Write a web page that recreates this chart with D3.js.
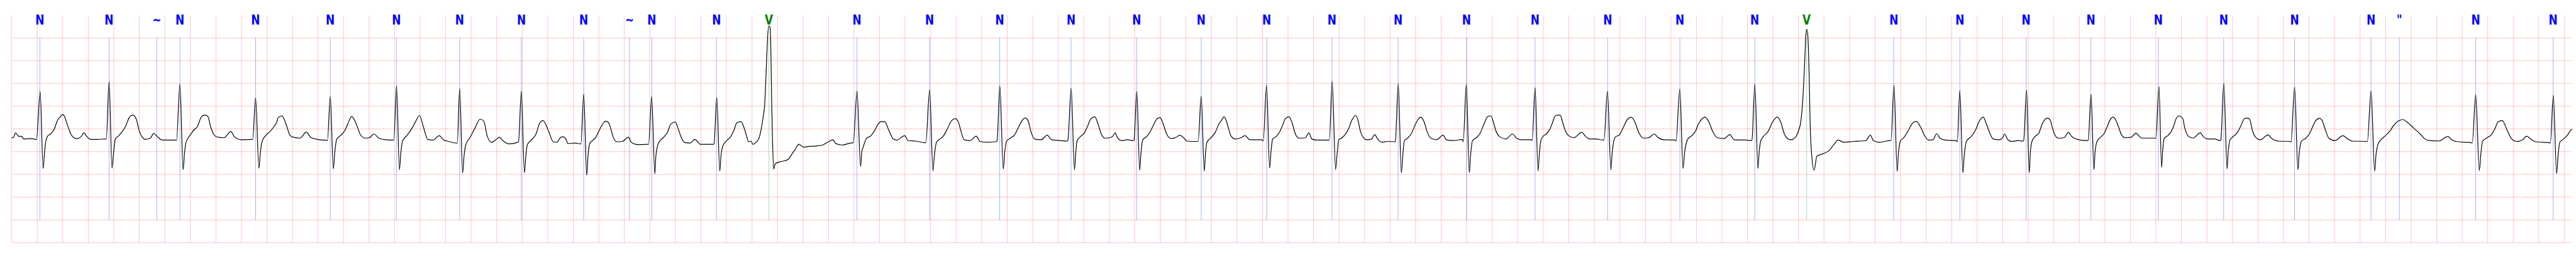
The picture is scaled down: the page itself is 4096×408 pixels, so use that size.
<!DOCTYPE html>
<html>
<head>
<meta charset="utf-8">
<script src="https://cdn.jsdelivr.net/npm/d3@7"></script>
<style>
html,body{margin:0;padding:0;background:#fff;overflow:hidden;}
svg{display:block;}
</style>
</head>
<body>
<svg id="chart"></svg>
<script>
// ---- data ----
// annotation times (s) and symbols
const annTimes = [0.2203,0.7626,1.1364,1.3183,1.9110,2.4957,3.0147,3.5100,3.9933,4.4813,4.8409,5.0153,5.5222,5.9330,6.6231,7.1917,7.7412,8.2999,8.8146,9.3198,9.8326,10.3443,10.8627,11.3988,11.9360,12.5046,13.0705,13.6565,14.0636,14.7464,15.2640,15.7833,16.2904,16.8190,17.3315,17.8869,18.4855,18.7080,19.3061,19.9125];
const annSymbols = ["N","N","~","N","N","N","N","N","N","N","~","N","N","V","N","N","N","N","N","N","N","N","N","N","N","N","N","N","V","N","N","N","N","N","N","N","N","\"","N","N"];
// grid tick values
const timeTicks = d3.range(0, 20.0001, 0.2);
const voltTicks = [2.0,1.5,1.0,0.5,0.0,-0.5,-1.0,-1.5,-2.0,-2.5];
const timeDomain = [0, 20.062];
const voltDomain = [-2.5, 2.5];
// ECG trace [time s, mV]
const trace = [
[0.000,-0.184],[0.011,-0.195],[0.031,-0.087],[0.052,-0.159],[0.079,-0.166],[0.093,-0.221],[0.141,-0.213],[0.189,-0.231],
[0.194,-0.239],[0.223,0.821],[0.246,-0.871],[0.257,-0.528],[0.267,-0.275],[0.281,-0.159],[0.305,-0.112],[0.333,-0.004],[0.360,0.195],[0.381,0.268],[0.398,0.315],[0.415,0.268],[0.428,0.159],[0.446,0.014],[0.463,-0.112],[0.483,-0.184],[0.511,-0.213],[0.545,-0.166],[0.565,-0.087],[0.586,-0.159],[0.620,-0.231],[0.675,-0.231],[0.736,-0.221],
[0.741,-0.221],[0.763,1.038],[0.786,-0.860],[0.798,-0.528],[0.812,-0.221],[0.839,-0.148],[0.866,-0.058],[0.894,0.069],[0.921,0.249],[0.949,0.304],[0.976,0.213],[1.001,-0.058],[1.024,-0.184],[1.045,-0.231],[1.086,-0.202],[1.113,-0.101],[1.140,-0.166],[1.181,-0.246],[1.284,-0.246],
[1.291,-0.257],[1.318,0.983],[1.343,-0.897],[1.354,-0.528],[1.366,-0.293],[1.400,-0.130],[1.428,-0.022],[1.455,0.051],[1.483,0.249],[1.510,0.304],[1.537,0.275],[1.558,0.051],[1.578,-0.094],[1.606,-0.174],[1.661,-0.195],[1.718,-0.058],[1.743,-0.166],[1.797,-0.239],[1.880,-0.231],
[1.888,-0.231],[1.911,0.683],[1.937,-0.864],[1.948,-0.528],[1.962,-0.275],[1.989,-0.148],[2.023,-0.058],[2.055,0.051],
[2.075,0.141],[2.089,0.249],[2.117,0.286],[2.137,0.195],[2.158,0.033],[2.178,-0.130],[2.206,-0.184],[2.260,-0.202],[2.308,-0.069],[2.342,-0.184],[2.397,-0.231],[2.468,-0.249],
[2.474,-0.249],[2.496,0.709],[2.520,-0.879],[2.531,-0.528],[2.545,-0.239],[2.575,-0.148],[2.609,-0.040],[2.630,0.087],[2.664,0.275],[2.692,0.159],[2.712,0.014],[2.733,-0.130],[2.767,-0.202],[2.801,-0.195],[2.838,-0.112],[2.876,-0.202],[2.931,-0.239],[2.989,-0.246],
[2.994,-0.246],[3.015,0.944],[3.038,-0.897],[3.049,-0.528],[3.061,-0.275],[3.095,-0.148],[3.136,0.014],[3.164,0.159],[3.195,0.296],[3.225,0.051],[3.260,-0.231],[3.301,-0.246],[3.349,-0.148],[3.383,-0.239],[3.424,-0.275],[3.485,-0.311],
[3.491,-0.311],[3.510,0.882],[3.533,-0.969],[3.544,-0.600],[3.558,-0.347],[3.588,-0.202],[3.629,0.014],[3.670,0.213],[3.698,0.177],[3.725,-0.148],[3.759,-0.293],[3.794,-0.239],[3.821,-0.184],[3.848,-0.257],[3.896,-0.329],[3.966,-0.293],
[3.971,-0.286],[3.993,0.828],[4.017,-0.962],[4.028,-0.600],[4.040,-0.347],[4.067,-0.257],[4.108,-0.112],[4.136,0.123],[4.163,0.184],[4.201,-0.010],
[4.215,-0.112],[4.242,-0.282],[4.273,-0.293],[4.295,-0.202],[4.318,-0.174],[4.345,-0.239],[4.358,-0.322],[4.416,-0.311],[4.456,-0.329],
[4.460,-0.329],[4.482,0.766],[4.505,-1.016],[4.515,-0.600],[4.530,-0.311],[4.550,-0.257],[4.577,-0.184],[4.599,-0.058],[4.626,0.087],[4.653,0.170],[4.676,0.141],[4.693,0.014],[4.711,-0.166],[4.738,-0.282],[4.783,-0.275],[4.832,-0.184],[4.854,-0.293],[4.908,-0.347],[4.987,-0.340],
[4.990,-0.340],[5.014,0.709],[5.039,-0.987],[5.047,-0.600],[5.065,-0.329],[5.087,-0.239],[5.114,-0.166],[5.141,-0.058],[5.163,0.105],[5.199,0.152],[5.221,0.014],[5.243,-0.166],[5.275,-0.300],
[5.316,-0.311],[5.352,-0.231],[5.398,-0.340],[5.495,-0.340],
[5.503,-0.329],[5.524,0.694],[5.548,-0.926],[5.557,-0.600],[5.573,-0.365],[5.603,-0.257],[5.634,-0.166],[5.660,-0.022],[5.680,0.130],[5.714,0.159],[5.737,0.033],[5.757,-0.148],[5.773,-0.282],[5.793,-0.268],[5.807,-0.340],[5.829,-0.304],[5.855,-0.202],[5.870,-0.040],[5.886,0.231],[5.901,0.593],
[5.913,1.388],[5.924,2.075],[5.932,2.263],[5.942,2.220],[5.948,1.750],[5.954,0.665],[5.961,-0.239],[5.970,-0.882],[5.983,-0.763],[6.014,-0.727],[6.055,-0.701],[6.086,-0.665],[6.106,-0.582],[6.137,-0.456],[6.168,-0.340],[6.204,-0.401],[6.250,-0.383],[6.302,-0.376],[6.353,-0.354],[6.404,-0.275],[6.435,-0.239],[6.455,-0.318],[6.507,-0.354],[6.589,-0.304],
[6.594,-0.311],[6.623,0.835],[6.651,-0.828],[6.661,-0.492],[6.671,-0.401],[6.697,-0.210],[6.733,-0.148],[6.764,-0.022],[6.784,0.087],[6.815,0.159],[6.841,0.159],[6.866,0.014],[6.885,-0.112],
[6.907,-0.221],[6.935,-0.246],[6.996,-0.148],[7.024,-0.257],[7.085,-0.268],[7.157,-0.304],
[7.162,-0.304],[7.192,0.857],[7.218,-0.918],[7.230,-0.564],[7.246,-0.293],[7.274,-0.221],[7.302,-0.148],[7.330,-0.004],[7.363,0.177],[7.391,0.224],[7.416,0.159],[7.435,-0.022],[7.463,-0.239],[7.508,-0.257],[7.558,-0.159],[7.586,-0.275],[7.641,-0.293],[7.713,-0.282],
[7.721,-0.257],[7.742,0.947],[7.769,-0.882],[7.780,-0.528],[7.795,-0.268],[7.825,-0.202],[7.858,-0.130],[7.891,0.051],[7.919,0.195],[7.941,0.242],[7.966,0.159],[7.986,-0.058],[8.014,-0.221],[8.064,-0.239],[8.114,-0.137],[8.147,-0.239],[8.220,-0.257],[8.270,-0.268],
[8.275,-0.257],[8.301,0.889],[8.327,-0.897],[8.336,-0.564],[8.347,-0.268],[8.375,-0.166],[8.403,-0.094],[8.431,0.069],[8.453,0.213],[8.486,0.268],[8.514,0.087],[8.537,-0.112],[8.564,-0.202],[8.603,-0.195],[8.629,-0.155],
[8.646,-0.087],[8.662,-0.184],[8.696,-0.257],[8.740,-0.239],[8.790,-0.257],
[8.794,-0.239],[8.815,0.828],[8.838,-0.907],[8.847,-0.564],[8.862,-0.239],[8.896,-0.159],[8.924,-0.040],[8.951,0.116],[8.974,0.224],[8.998,0.249],[9.018,0.141],[9.052,-0.130],[9.085,-0.210],[9.124,-0.184],[9.152,-0.137],[9.185,-0.202],[9.207,-0.268],[9.285,-0.275],
[9.296,-0.275],[9.320,0.719],[9.344,-0.926],[9.352,-0.600],[9.365,-0.293],[9.396,-0.195],[9.430,-0.076],[9.458,0.105],[9.480,0.195],[9.499,0.268],[9.519,0.159],[9.552,-0.148],[9.586,-0.221],[9.630,-0.195],[9.663,-0.148],[9.702,-0.239],[9.797,-0.239],
[9.806,-0.268],[9.832,0.962],[9.856,-0.860],[9.866,-0.528],[9.880,-0.221],[9.908,-0.166],[9.936,-0.058],[9.958,0.087],[9.980,0.224],[10.008,0.268],[10.033,0.123],[10.058,-0.112],[10.086,-0.202],[10.136,-0.195],[10.164,-0.087],[10.186,-0.221],[10.231,-0.246],[10.320,-0.246],
[10.324,-0.246],[10.346,1.045],[10.373,-0.889],[10.383,-0.600],[10.399,-0.231],[10.424,-0.195],[10.455,-0.094],[10.476,0.014],[10.501,0.195],[10.529,0.296],[10.548,0.195],[10.568,-0.058],[10.589,-0.184],[10.619,-0.239],[10.655,-0.221],[10.679,-0.123],[10.702,-0.221],[10.737,-0.293],[10.784,-0.275],[10.837,-0.282],
[10.841,-0.275],[10.864,0.991],[10.888,-0.962],[10.899,-0.600],[10.912,-0.257],[10.938,-0.202],[10.968,-0.094],[10.999,0.105],[11.020,0.213],[11.040,0.257],[11.066,0.159],[11.092,-0.076],[11.122,-0.210],[11.164,-0.239],[11.215,-0.137],[11.241,-0.239],[11.297,-0.257],[11.367,-0.231],
[11.373,-0.282],[11.397,0.973],[11.421,-0.962],[11.430,-0.600],[11.446,-0.257],[11.471,-0.202],[11.502,-0.112],[11.533,0.087],[11.564,0.268],[11.590,0.286],[11.610,0.141],[11.631,-0.058],[11.656,-0.166],[11.708,-0.221],[11.759,-0.112],[11.790,-0.202],[11.831,-0.239],[11.908,-0.239],
[11.913,-0.257],[11.936,0.907],[11.959,-0.918],[11.970,-0.528],[11.983,-0.239],
[12.004,-0.148],[12.024,-0.112],[12.055,0.014],[12.075,0.159],[12.096,0.293],[12.132,0.304],[12.152,0.141],[12.173,-0.040],[12.199,-0.148],[12.240,-0.195],[12.301,-0.076],[12.332,-0.166],[12.363,-0.221],[12.414,-0.221],[12.471,-0.246],
[12.476,-0.246],[12.503,0.828],[12.530,-0.897],[12.539,-0.564],[12.563,-0.184],[12.599,-0.123],[12.630,0.051],[12.661,0.213],[12.691,0.257],[12.717,0.159],[12.748,-0.076],[12.784,-0.202],[12.825,-0.195],[12.871,-0.112],[12.897,-0.184],[12.948,-0.239],[13.035,-0.246],
[13.040,-0.268],[13.070,0.875],[13.095,-0.871],[13.107,-0.528],[13.133,-0.221],[13.164,-0.148],[13.195,-0.040],[13.215,0.105],[13.241,0.213],[13.266,0.260],[13.297,0.159],[13.328,-0.058],[13.364,-0.195],[13.420,-0.210],[13.461,-0.123],[13.497,-0.239],[13.593,-0.246],[13.629,-0.257],
[13.635,-0.246],[13.658,0.983],[13.682,-0.871],[13.691,-0.528],[13.703,-0.275],[13.725,-0.166],[13.761,-0.058],[13.797,0.152],[13.833,0.260],[13.862,0.141],[13.886,-0.087],[13.910,-0.202],[13.940,-0.239],[13.976,-0.184],[14.000,-0.040],[14.018,0.159],[14.034,0.665],
[14.046,1.316],[14.058,2.075],[14.066,2.191],[14.074,2.003],[14.084,1.099],[14.091,0.123],[14.102,-0.528],[14.122,-0.907],[14.144,-0.600],[14.192,-0.546],[14.240,-0.474],[14.276,-0.347],[14.312,-0.246],[14.354,-0.293],[14.431,-0.275],[14.527,-0.257],[14.563,-0.137],[14.587,-0.257],[14.635,-0.293],[14.719,-0.257],
[14.725,-0.257],[14.748,0.962],[14.773,-0.933],[14.782,-0.564],[14.797,-0.275],[14.827,-0.184],[14.863,-0.022],[14.887,0.105],[14.923,0.166],[14.958,0.033],[14.988,-0.148],[15.018,-0.246],[15.054,-0.239],[15.082,-0.105],[15.108,-0.202],[15.150,-0.246],[15.236,-0.257],
[15.244,-0.282],[15.264,0.846],[15.288,-0.962],[15.298,-0.600],[15.318,-0.257],[15.354,-0.166],[15.390,-0.004],[15.414,0.159],[15.447,0.260],[15.471,0.118],
[15.489,-0.022],[15.507,-0.148],[15.525,-0.221],[15.574,-0.239],[15.601,-0.184],[15.614,-0.112],[15.641,-0.239],[15.672,-0.275],[15.722,-0.257],[15.759,-0.268],
[15.764,-0.257],[15.787,0.853],[15.808,-0.962],[15.816,-0.528],[15.829,-0.275],[15.856,-0.159],[15.883,-0.094],[15.909,0.105],[15.927,0.195],[15.950,0.239],[15.972,0.195],[15.990,0.014],[16.008,-0.130],[16.035,-0.202],[16.079,-0.195],[16.115,-0.076],[16.138,-0.159],[16.187,-0.231],[16.258,-0.257],
[16.270,-0.246],[16.292,0.766],[16.315,-0.897],[16.323,-0.528],[16.339,-0.275],[16.366,-0.184],[16.392,-0.112],[16.419,0.051],[16.437,0.177],[16.464,0.260],[16.486,0.195],[16.509,0.033],[16.531,-0.130],[16.562,-0.195],[16.607,-0.184],[16.643,-0.094],[16.688,-0.202],[16.795,-0.202],
[16.800,-0.210],[16.824,0.936],[16.845,-0.846],[16.853,-0.492],[16.865,-0.210],[16.893,-0.148],[16.920,-0.058],[16.938,0.051],[16.960,0.231],[16.983,0.286],[17.010,0.231],[17.027,0.014],[17.054,-0.159],[17.090,-0.202],[17.148,-0.087],[17.171,-0.166],[17.206,-0.221],[17.260,-0.221],[17.303,-0.257],
[17.309,-0.239],[17.332,1.001],[17.358,-0.879],[17.366,-0.528],[17.381,-0.239],[17.403,-0.174],[17.439,-0.076],[17.466,0.069],[17.493,0.224],[17.519,0.239],[17.537,0.195],[17.555,-0.022],[17.582,-0.184],[17.618,-0.239],[17.680,-0.130],[17.707,-0.210],[17.761,-0.268],[17.855,-0.275],
[17.859,-0.293],[17.887,0.918],[17.913,-0.897],[17.922,-0.564],[17.940,-0.275],[17.976,-0.202],[18.002,-0.112],[18.029,0.051],[18.051,0.177],[18.083,0.231],[18.101,0.195],[18.128,-0.022],[18.154,-0.198],
[18.204,-0.257],[18.266,-0.148],[18.303,-0.221],[18.340,-0.268],[18.451,-0.275],
[18.457,-0.282],[18.486,0.835],[18.514,-0.926],[18.525,-0.564],[18.540,-0.340],[18.562,-0.246],[18.599,-0.148],[18.636,-0.040],[18.661,0.069],[18.698,0.170],[18.733,0.206],[18.772,0.141],[18.822,0.014],[18.871,-0.112],[18.908,-0.221],[18.945,-0.257],[19.019,-0.264],[19.087,-0.166],[19.118,-0.239],[19.168,-0.282],[19.273,-0.304],
[19.279,-0.311],[19.306,0.756],[19.334,-0.915],[19.347,-0.528],[19.359,-0.275],[19.390,-0.202],[19.427,-0.130],[19.452,-0.022],[19.483,0.159],[19.514,0.184],[19.551,-0.022],[19.588,-0.221],[19.625,-0.275],[19.674,-0.239],[19.705,-0.159],[19.736,-0.221],[19.773,-0.282],[19.884,-0.304],
[19.891,-0.311],[19.914,0.738],[19.940,-0.980],[19.952,-0.564],[19.965,-0.293],[19.995,-0.221],[20.026,-0.130],[20.057,-0.011],[20.062,-0.004]
];

// ---- drawing (reference coordinates, scaled by viewBox) ----
const W = 7522, H = 750;
const svg = d3.select("#chart")
  .attr("width", 4096).attr("height", 408)
  .attr("viewBox", `0 0 ${W} ${H}`)
  .attr("preserveAspectRatio", "none");

const x = d3.scaleLinear().domain(timeDomain).range([34.2, 7510.9]);
const y = d3.scaleLinear().domain(voltDomain).range([708.2, 44.2]);

const gridColor = "rgba(255,0,0,0.27)";
const grid = svg.append("g");
grid.selectAll("line.v").data(timeTicks).join("line")
  .attr("class","v")
  .attr("x1", d => x(d)).attr("x2", d => x(d))
  .attr("y1", y(voltDomain[1])).attr("y2", y(voltDomain[0]))
  .attr("stroke", gridColor).attr("stroke-width", 1.6);
grid.selectAll("line.h").data(voltTicks).join("line")
  .attr("class","h")
  .attr("x1", x(timeDomain[0])).attr("x2", x(timeDomain[1]))
  .attr("y1", d => y(d)).attr("y2", d => y(d))
  .attr("stroke", gridColor).attr("stroke-width", 1.6);

const annColor = s => s === "V" ? "#008000" : "#0000ff";
const anns = annTimes.map((t, i) => ({t, s: annSymbols[i]}));
svg.append("g").selectAll("line").data(anns).join("line")
  .attr("x1", d => x(d.t)).attr("x2", d => x(d.t))
  .attr("y1", y(2.0)).attr("y2", y(-2.0))
  .attr("stroke", d => annColor(d.s)).attr("stroke-opacity", 0.5)
  .attr("stroke-width", 1.2);

const line = d3.line().x(d => x(d[0])).y(d => y(d[1])).curve(d3.curveMonotoneX);
svg.append("path").datum(trace)
  .attr("d", line)
  .attr("fill", "none").attr("stroke", "#000").attr("stroke-width", 2.2)
  .attr("stroke-linejoin","round");

svg.append("g").selectAll("text").data(anns).join("text")
  .attr("transform", d => `translate(${x(d.t)},72) scale(0.82,1)`)
  .attr("text-anchor", "middle")
  .attr("font-family", "DejaVu Sans")
  .attr("font-weight", "bold")
  .attr("font-size", 38)
  .attr("fill", d => annColor(d.s))
  .text(d => d.s);
</script>
</body>
</html>
